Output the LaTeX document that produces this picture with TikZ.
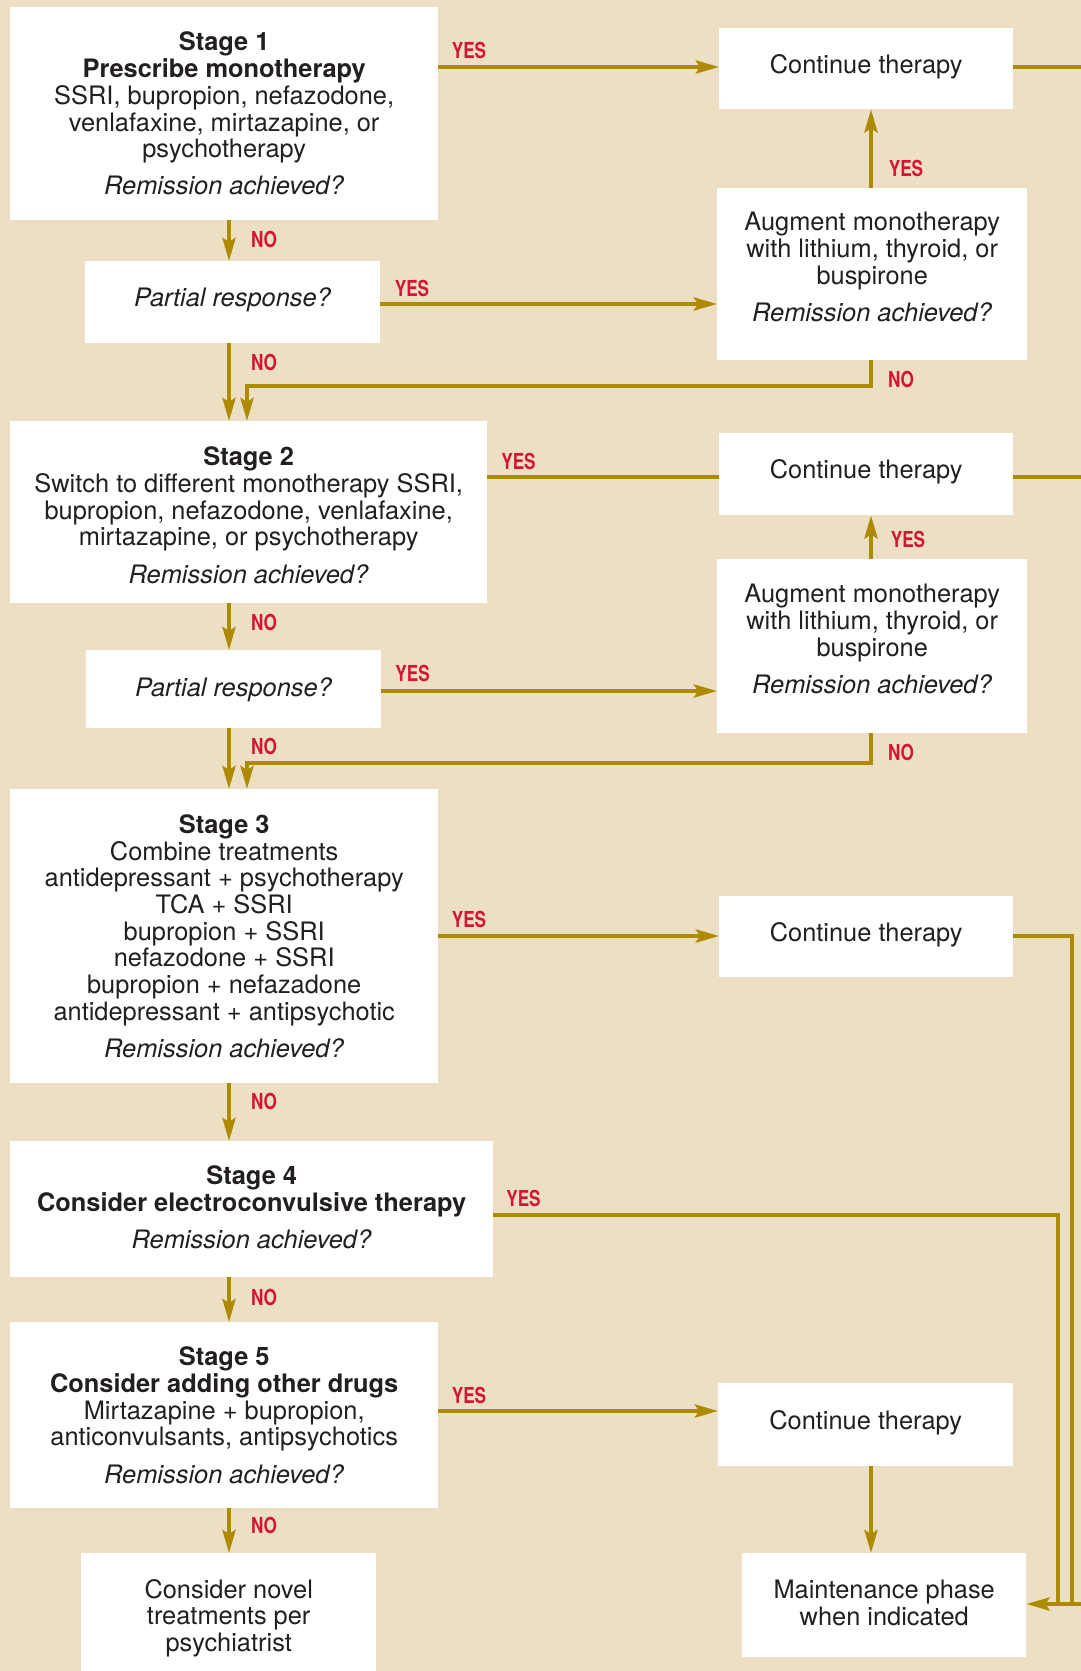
\documentclass[tikz,border=0pt]{standalone}
\usepackage{fontspec}
\setmainfont{TeX Gyre Heros}
\newfontfamily\lblfont{TeX Gyre Heros}[FakeStretch=0.78]
\usetikzlibrary{arrows.meta}
\definecolor{bg}{RGB}{236,223,195}
\definecolor{gold}{RGB}{174,138,0}
\definecolor{lblred}{RGB}{212,22,52}
\definecolor{ink}{RGB}{35,31,32}
\begin{document}
\begin{tikzpicture}[x=1pt,y=-1pt,
  box/.style={fill=white, draw=none, inner sep=0pt, anchor=north west},
  txt/.style={align=center, text=ink, inner sep=0pt, font=\fontsize{25.4}{26.7}\selectfont},
  conline/.style={draw=gold, line width=4pt},
  arr/.style={conline, -{Stealth[length=23pt,width=13pt,inset=4pt]}},
  lbl/.style={text=lblred, inner sep=0pt, font=\lblfont\bfseries\fontsize{22}{22}\selectfont}
]
\fill[bg] (0,0) rectangle (1081,1671);
\useasboundingbox (0,0) rectangle (1081,1671);
\clip (0,0) rectangle (1081,1671);

% ---------- boxes ----------
\node[box, minimum width=428pt, minimum height=213pt] (s1) at (10,7) {};
\node[box, minimum width=294pt, minimum height=81pt] (ct1) at (719,28) {};
\node[box, minimum width=310pt, minimum height=172pt] (aug1) at (717,188) {};
\node[box, minimum width=295pt, minimum height=82pt] (pr1) at (85,261) {};
\node[box, minimum width=477pt, minimum height=182pt] (s2) at (10,421) {};
\node[box, minimum width=294pt, minimum height=82pt] (ct2) at (719,433) {};
\node[box, minimum width=310pt, minimum height=174pt] (aug2) at (717,559) {};
\node[box, minimum width=295pt, minimum height=78pt] (pr2) at (86,650) {};
\node[box, minimum width=428pt, minimum height=294pt] (s3) at (10,789) {};
\node[box, minimum width=294pt, minimum height=81pt] (ct3) at (719,896) {};
\node[box, minimum width=483pt, minimum height=136pt] (s4) at (10,1141) {};
\node[box, minimum width=428pt, minimum height=186pt] (s5) at (10,1322) {};
\node[box, minimum width=295pt, minimum height=83pt] (ct5) at (718,1383) {};
\node[box, minimum width=284pt, minimum height=104pt] (maint) at (742,1553) {};
\node[box, minimum width=295pt, minimum height=126pt] (novel) at (81,1553) {};

% ---------- texts ----------
\node[txt] (s1t) at (s1.center) {{\bfseries Stage 1}\\{\bfseries Prescribe monotherapy}\\SSRI, bupropion, nefazodone,\\venlafaxine, mirtazapine, or\\psychotherapy\\[10.5pt]\textit{Remission achieved?}};
\node[txt, yshift=2pt] (ct1t) at (ct1.center) {Continue therapy};
\node[txt, yshift=7pt] (aug1t) at (aug1.center) {Augment monotherapy\\with lithium, thyroid, or\\buspirone\\[10.5pt]\textit{Remission achieved?}};
\node[txt, yshift=2.5pt] (pr1t) at (pr1.center) {\textit{Partial response?}};
\node[txt, yshift=-3pt] (s2t) at (s2.center) {{\bfseries Stage 2}\\Switch to different monotherapy SSRI,\\bupropion, nefazodone, venlafaxine,\\mirtazapine, or psychotherapy\\[10.5pt]\textit{Remission achieved?}};
\node[txt, yshift=2pt] (ct2t) at (ct2.center) {Continue therapy};
\node[txt, yshift=7pt] (aug2t) at (aug2.center) {Augment monotherapy\\with lithium, thyroid, or\\buspirone\\[10.5pt]\textit{Remission achieved?}};
\node[txt, yshift=-0.5pt] (pr2t) at (pr2.center) {\textit{Partial response?}};
\node[txt] (s3t) at (s3.center) {{\bfseries Stage 3}\\Combine treatments\\antidepressant + psychotherapy\\TCA + SSRI\\bupropion + SSRI\\nefazodone + SSRI\\bupropion + nefazadone\\antidepressant + antipsychotic\\[10.5pt]\textit{Remission achieved?}};
\node[txt, yshift=2pt] (ct3t) at (ct3.center) {Continue therapy};
\node[txt, yshift=2pt] (s4t) at (s4.center) {{\bfseries Stage 4}\\{\bfseries Consider electroconvulsive therapy}\\[10.5pt]\textit{Remission achieved?}};
\node[txt] (s5t) at (s5.center) {{\bfseries Stage 5}\\{\bfseries Consider adding other drugs}\\Mirtazapine + bupropion,\\anticonvulsants, antipsychotics\\[10.5pt]\textit{Remission achieved?}};
\node[txt, yshift=2pt] (ct5t) at (ct5.center) {Continue therapy};
\node[txt, yshift=2pt] (maintt) at (maint.center) {Maintenance phase\\when indicated};
\node[txt, yshift=-2pt] (novelt) at (novel.center) {Consider novel\\treatments per\\psychiatrist};

% ---------- helper coordinates ----------
\coordinate (col) at (229,0);
\coordinate (col2) at (247,0);
\coordinate (acol) at (871,0);
\coordinate (r1) at (0,67);
\coordinate (r2) at (0,304);
\coordinate (r3) at (0,477);
\coordinate (r4) at (0,691);
\coordinate (r5) at (0,936);
\coordinate (r6) at (0,1215);
\coordinate (r7) at (0,1411);
\coordinate (r8) at (0,1604);
\coordinate (h1) at (0,386);
\coordinate (h2) at (0,763);
\coordinate (e1) at (1081,67);
\coordinate (e3) at (1081,477);
\coordinate (e8) at (1081,1604);
\coordinate (j3) at (1072,1604);
\coordinate (j4) at (1058,1604);

% ---------- connectors ----------
\draw[arr] (s1.east |- r1) -- (ct1.west |- r1);
\draw[conline] (ct1.east |- r1) -- (e1);
\draw[arr] (s1.south -| col) -- (pr1.north -| col);
\draw[arr] (pr1.east |- r2) -- (aug1.west |- r2);
\draw[arr] (aug1.north -| acol) -- (ct1.south -| acol);
\draw[arr] (pr1.south -| col) -- (s2.north -| col);
\draw[arr] (aug1.south -| acol) -- (acol |- h1) -| (col2 |- s2.north);

\draw[conline] (s2.east |- r3) -- (ct2.west |- r3);
\draw[conline] (ct2.east |- r3) -- (e3);
\draw[arr] (aug2.north -| acol) -- (ct2.south -| acol);
\draw[arr] (s2.south -| col) -- (pr2.north -| col);
\draw[arr] (pr2.east |- r4) -- (aug2.west |- r4);
\draw[arr] (pr2.south -| col) -- (s3.north -| col);
\draw[arr] (aug2.south -| acol) -- (acol |- h2) -| (col2 |- s3.north);

\draw[arr] (s3.east |- r5) -- (ct3.west |- r5);
\draw[conline] (ct3.east |- r5) -| (j3);
\draw[arr] (s3.south -| col) -- (s4.north -| col);
\draw[conline] (s4.east |- r6) -| (j4);
\draw[arr] (s4.south -| col) -- (s5.north -| col);
\draw[arr] (s5.east |- r7) -- (ct5.west |- r7);
\draw[arr] (ct5.south -| acol) -- (maint.north -| acol);
\draw[arr] (s5.south -| col) -- (novel.north -| col);
\draw[arr] (e8) -- (maint.east |- e8);

% ---------- labels ----------
\node[lbl] (l1) at (469,50) {YES};
\node[lbl] (l2) at (264,239) {NO};
\node[lbl] (l3) at (412,288) {YES};
\node[lbl] (l4) at (906,168.5) {YES};
\node[lbl] (l5) at (264,362.5) {NO};
\node[lbl] (l6) at (901,379.5) {NO};
\node[lbl] (l7) at (518.5,461) {YES};
\node[lbl] (l8) at (908,539.7) {YES};
\node[lbl] (l9) at (264,622.6) {NO};
\node[lbl] (l10) at (412.6,673.8) {YES};
\node[lbl] (l11) at (264,746.3) {NO};
\node[lbl] (l12) at (901,752.5) {NO};
\node[lbl] (l13) at (469,919) {YES};
\node[lbl] (l14) at (264,1101) {NO};
\node[lbl] (l15) at (523.5,1198.3) {YES};
\node[lbl] (l16) at (264,1297.4) {NO};
\node[lbl] (l17) at (469,1395.5) {YES};
\node[lbl] (l18) at (264,1525) {NO};
\end{tikzpicture}
\end{document}
